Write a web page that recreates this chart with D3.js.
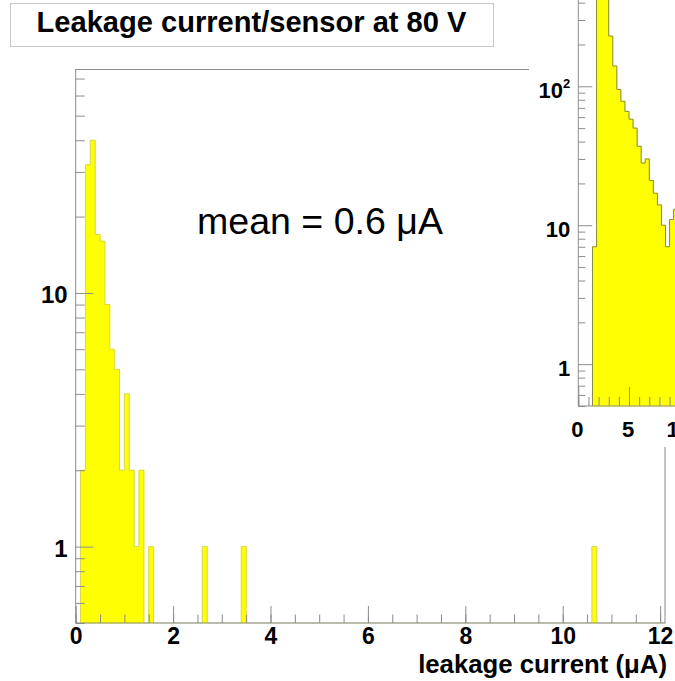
<!DOCTYPE html>
<html><head><meta charset="utf-8">
<script src="https://cdn.jsdelivr.net/npm/d3@7"></script>
<style>body{margin:0;background:#fff} svg{display:block}</style>
</head><body>
<svg id="c" width="675" height="681"></svg>
<script>
// ---------- data ----------
const titleText = "Leakage current/sensor at 80 V";
const xAxisTitle = "leakage current (\u03bcA)";
const meanLabel = "mean = 0.6 \u03bcA";

const mainBinLo  = [0.1, 0.2, 0.3, 0.4, 0.5, 0.6, 0.7, 0.8, 0.9, 1.0, 1.1, 1.2, 1.3, 1.5, 2.6, 3.4, 10.6];
const mainCounts = [2,   32,  40,  17,  16,  9,   6,   5,   2,   4,   2,   1,   2,   1,   1,   1,   1];
const mainBinWidth = 0.1;
const mainXMax = 12.1;
const mainXTicks = [0, 2, 4, 6, 8, 10, 12];
const mainXMinorTicks = d3.range(0, 12.01, 0.5);
const mainYTicks = [1, 10];
const mainYTickLabels = ["1", "10"];
const mainYMinorTicks = [0.5,0.6,0.7,0.8,0.9,2,3,4,5,6,7,8,9,20,30,40,50,60,70];

const insetBinLo  = [1.4, 1.8, 2.2, 2.6, 3.0, 3.4, 3.8, 4.2, 4.6, 5.0, 5.4, 5.8, 6.2, 6.6, 7.0, 7.4, 7.8, 8.2, 8.6, 9.0, 9.4];
const insetCounts = [7, 1500, 900, 480, 230, 140, 95,  78,  66,  58,  50,  37,  28,  30,  21,  17,  14,  10,  7,   11,  13];
const insetBinWidth = 0.4;
const insetXTicks = [0, 5, 10];
const insetXTickLabels = ["0", "5", "10"];
const insetXMinorTicks = d3.range(0, 14, 1);
const insetYTicks = [1, 10, 100];
const insetYTickLabels = ["1", "10", "10|2"];
const insetYMinorTicks = [0.5,0.6,0.7,0.8,0.9,2,3,4,5,6,7,8,9,20,30,40,50,60,70,80,90,200,300,400];

// ---------- setup ----------
const FONT = "'Liberation Sans', Arial, Helvetica, sans-serif";
const svg = d3.select("#c");
const axisCol = "#8c8c8c";
const yellow = "#ffff00";

function fit(sel, w) {
  const cur = sel.node().getComputedTextLength();
  const fs = parseFloat(sel.attr("font-size"));
  sel.attr("font-size", fs * w / cur);
}

// ---------- main plot ----------
const M = {l: 75.7, r: 665, t: 69.5, b: 623};
const x = d3.scaleLinear().domain([0, mainXMax]).range([M.l, M.r]);
const y = d3.scaleLog().domain([0.5, 76]).range([M.b, M.t]);
const base = y(0.5);

const gMain = svg.append("g");

// bars
gMain.selectAll("rect.bar").data(mainBinLo.map((lo, i) => ({lo, c: mainCounts[i]})))
  .join("rect").attr("class", "bar")
  .attr("x", d => x(d.lo)).attr("width", d => x(d.lo + mainBinWidth) - x(d.lo))
  .attr("y", d => y(d.c)).attr("height", d => base - y(d.c))
  .attr("fill", yellow).attr("stroke", yellow).attr("stroke-width", 0.9);

// outline
const nBins = Math.round(mainXMax / mainBinWidth);
const cmap = new Map(mainBinLo.map((lo, i) => [Math.round(lo / mainBinWidth), mainCounts[i]]));
const pts = [[x(0), base]];
for (let i = 0; i < nBins; i++) {
  const v = cmap.get(i) || 0;
  const yy = v > 0 ? y(v) : base;
  pts.push([x(i * mainBinWidth), yy], [x((i + 1) * mainBinWidth), yy]);
}
pts.push([x(mainXMax), base]);
gMain.append("path").attr("d", d3.line()(pts)).attr("fill", "none")
  .attr("stroke", "#c4c47a").attr("stroke-width", 0.7);

// frame
gMain.append("rect").attr("x", M.l).attr("y", M.t).attr("width", M.r - M.l).attr("height", M.b - M.t)
  .attr("fill", "none").attr("stroke", axisCol).attr("stroke-width", 1);

// x axis
const xAxisMinor = d3.axisBottom(x).tickValues(mainXMinorTicks).tickSizeInner(-8.5).tickSizeOuter(0).tickFormat("");
const gxm = gMain.append("g").attr("transform", `translate(0,${M.b})`).call(xAxisMinor);
const xAxisMajor = d3.axisBottom(x).tickValues(mainXTicks).tickSizeInner(-17).tickSizeOuter(0).tickFormat(d3.format("d"));
const gx = gMain.append("g").attr("transform", `translate(0,${M.b})`).call(xAxisMajor);
[gxm, gx].forEach(g => { g.select(".domain").remove(); g.selectAll("line").attr("stroke", axisCol); });
gx.selectAll("text").attr("y", 21).attr("dy", null).attr("fill", "#000")
  .attr("font-family", FONT).attr("font-weight", "bold").attr("font-size", 23);

// y axis
const yAxisMinor = d3.axisLeft(y).tickValues(mainYMinorTicks).tickSizeInner(-9).tickSizeOuter(0).tickFormat("");
const gym = gMain.append("g").attr("transform", `translate(${M.l},0)`).call(yAxisMinor);
const yAxisMajor = d3.axisLeft(y).tickValues(mainYTicks).tickSizeInner(-17.5).tickSizeOuter(0)
  .tickFormat((d, i) => mainYTickLabels[i]);
const gy = gMain.append("g").attr("transform", `translate(${M.l},0)`).call(yAxisMajor);
[gym, gy].forEach(g => { g.select(".domain").remove(); g.selectAll("line").attr("stroke", axisCol); });
gy.selectAll("text").attr("x", -8).attr("dy", null).attr("y", 10).attr("fill", "#000")
  .attr("font-family", FONT).attr("font-weight", "bold").attr("font-size", 24);

// axis title
const xt = svg.append("text").attr("x", 667).attr("y", 673).attr("text-anchor", "end")
  .attr("font-family", FONT).attr("font-weight", "bold").attr("font-size", 24).text(xAxisTitle);
fit(xt, 249);

// mean label
const mt = svg.append("text").attr("x", 197).attr("y", 234)
  .attr("font-family", FONT).attr("font-size", 34).text(meanLabel);
fit(mt, 246);

// ---------- inset ----------
const I = {l: 578.3, b: 406};
const xi = d3.scaleLinear().domain([0, 10]).range([I.l, 679.7]);
const yi = d3.scaleLog().domain([0.5, 418]).range([I.b, 0]);
const gIn = svg.append("g");
gIn.append("rect").attr("x", 529).attr("y", 0).attr("width", 146).attr("height", 447).attr("fill", "#fff");

gIn.selectAll("rect.ibar").data(insetBinLo.map((lo, i) => ({lo, c: insetCounts[i]})))
  .join("rect").attr("class", "ibar")
  .attr("x", d => xi(d.lo)).attr("width", d => xi(d.lo + insetBinWidth) - xi(d.lo))
  .attr("y", d => yi(d.c)).attr("height", d => I.b - yi(d.c))
  .attr("fill", yellow).attr("stroke", yellow).attr("stroke-width", 0.9);
const ipts = [[xi(insetBinLo[0]), I.b]];
insetBinLo.forEach((lo, i) => {
  ipts.push([xi(lo), yi(insetCounts[i])], [xi(lo + insetBinWidth), yi(insetCounts[i])]);
});
gIn.append("path").attr("d", d3.line()(ipts)).attr("fill", "none")
  .attr("stroke", "#8a8a44").attr("stroke-width", 1);

// inset axes lines
gIn.append("line").attr("x1", I.l).attr("x2", I.l).attr("y1", -5).attr("y2", I.b).attr("stroke", axisCol);
gIn.append("line").attr("x1", I.l).attr("x2", 680).attr("y1", I.b).attr("y2", I.b).attr("stroke", axisCol);

const ixm = gIn.append("g").attr("transform", `translate(0,${I.b})`)
  .call(d3.axisBottom(xi).tickValues(insetXMinorTicks).tickSizeInner(-9).tickSizeOuter(0).tickFormat(""));
const ix = gIn.append("g").attr("transform", `translate(0,${I.b})`)
  .call(d3.axisBottom(xi).tickValues(insetXTicks).tickSizeInner(-19).tickSizeOuter(0).tickFormat((d, i) => insetXTickLabels[i]));
[ixm, ix].forEach(g => { g.select(".domain").remove(); g.selectAll("line").attr("stroke", axisCol); });
ix.selectAll("text").attr("y", 31).attr("dy", null).attr("dx", -1.5).attr("fill", "#000")
  .attr("font-family", FONT).attr("font-weight", "bold").attr("font-size", 22);

const iym = gIn.append("g").attr("transform", `translate(${I.l},0)`)
  .call(d3.axisLeft(yi).tickValues(insetYMinorTicks).tickSizeInner(-7).tickSizeOuter(0).tickFormat(""));
const iy = gIn.append("g").attr("transform", `translate(${I.l},0)`)
  .call(d3.axisLeft(yi).tickValues(insetYTicks).tickSizeInner(-14).tickSizeOuter(0).tickFormat(""));
[iym, iy].forEach(g => { g.select(".domain").remove(); g.selectAll("line").attr("stroke", axisCol); });
iy.selectAll(".tick").each(function(d, i) {
  const parts = insetYTickLabels[i].split("|");
  const t = d3.select(this).append("text").attr("x", -8).attr("y", 11).attr("text-anchor", "end")
    .attr("fill", "#000").attr("font-family", FONT).attr("font-weight", "bold").attr("font-size", 22);
  t.append("tspan").text(parts[0]);
  if (parts[1]) t.append("tspan").attr("font-size", 13).attr("dy", -10).text(parts[1]);
});

// ---------- title box ----------
svg.append("rect").attr("x", 10.5).attr("y", 3.5).attr("width", 483).attr("height", 43)
  .attr("fill", "#fff").attr("stroke", "#c8c8c8").attr("stroke-width", 1);
const tt = svg.append("text").attr("x", 251.5).attr("y", 32).attr("text-anchor", "middle")
  .attr("font-family", FONT).attr("font-weight", "bold").attr("font-size", 26).text(titleText);
fit(tt, 430);
</script>
</body></html>
